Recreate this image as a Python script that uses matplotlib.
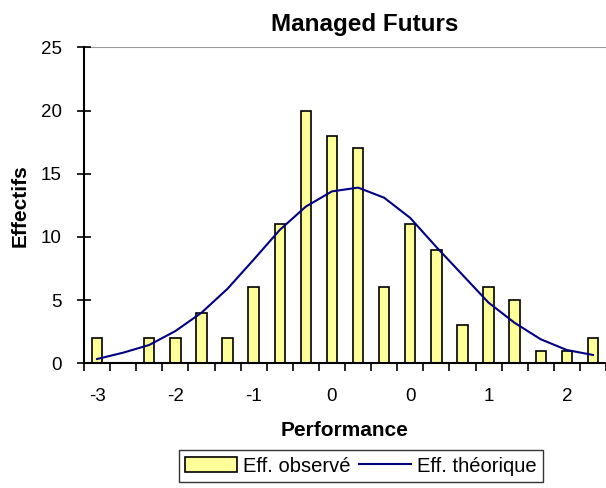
import matplotlib.pyplot as plt
import numpy as np

plt.rcParams['font.family'] = ['Liberation Sans', 'DejaVu Sans']

# effectifs observés par classe
observe = [2, 0, 2, 2, 4, 2, 6, 11, 20, 18, 17, 6, 11, 9, 3, 6, 5, 1, 1, 2]
# effectifs théoriques (loi normale)
theorique = [0.34, 0.84, 1.45, 2.55, 4.0, 5.9, 8.2, 10.55, 12.4, 13.6,
             13.9, 13.1, 11.5, 9.2, 7.0, 4.8, 3.2, 1.9, 1.05, 0.66]
tick_labels = ['-3', '-2', '-1', '0', '0', '1', '2']

x = np.arange(len(observe))

fig = plt.figure(figsize=(6.06, 4.88), dpi=100)
ax = fig.add_axes([84 / 606, 1 - 363.3 / 488, 522 / 606, 316 / 488])

bars = ax.bar(x, observe, width=0.4, color='#FFFF99', edgecolor='black',
              linewidth=1.2, label='Eff. observé', zorder=2)
line, = ax.plot(x, theorique, color='#000080', linewidth=1.5,
                label='Eff. théorique', zorder=3)

ax.set_xlim(-0.5, len(observe) - 0.5)
ax.set_ylim(0, 25)
ax.set_yticks([0, 5, 10, 15, 20, 25])
ax.axhline(25, color='#999999', linewidth=1.5, zorder=1)

# ticks aux bornes des classes, étiquettes toutes les 3 classes
ax.set_xticks(np.arange(-0.5, len(observe), 1.0))
ax.set_xticklabels([])
ax.set_xticks(x[::3], minor=True)
ax.set_xticklabels(tick_labels, minor=True)
ax.tick_params(axis='x', which='major', direction='out', length=6, width=1.2)
ax.tick_params(axis='x', which='minor', length=0, pad=18, labelsize=13.5)
ax.tick_params(axis='y', direction='inout', length=10, width=1.2, labelsize=13.5, pad=11)

for s in ['top', 'right']:
    ax.spines[s].set_visible(False)
for s in ['left', 'bottom']:
    ax.spines[s].set_linewidth(1.5)

ax.set_title('Managed Futurs', fontsize=17.5, fontweight='bold', pad=12, x=0.538)
ax.set_ylabel('Effectifs', fontsize=15, fontweight='bold', labelpad=8)
ax.set_xlabel('Performance', fontsize=15, fontweight='bold', labelpad=11)

leg = fig.legend(handles=[bars, line], loc='center', bbox_to_anchor=(361 / 606, 1 - 466 / 488),
                 ncol=2, frameon=True, fancybox=False, edgecolor='black', fontsize=14.5,
                 handlelength=2.6, handleheight=0.7, columnspacing=0.4, handletextpad=0.3,
                 borderpad=0.3)
leg.get_frame().set_linewidth(1.0)

plt.savefig('out.png', dpi=100)
plt.close()
